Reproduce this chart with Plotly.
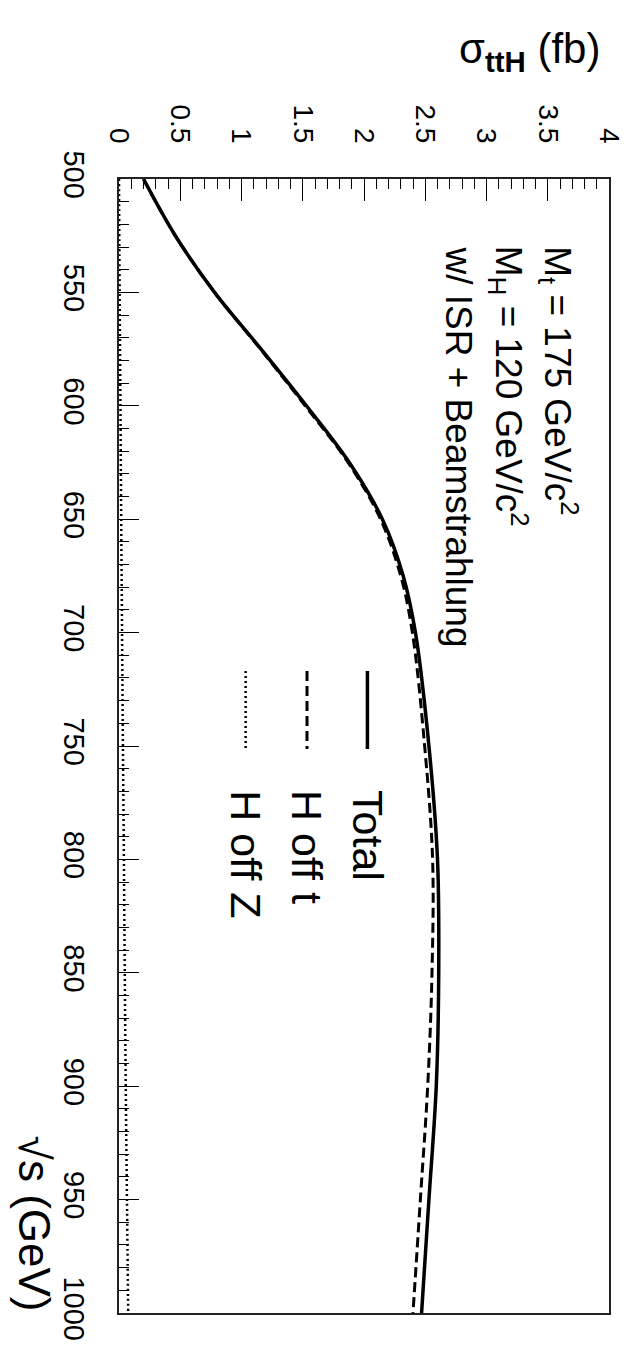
import plotly.graph_objects as go

# ---------------- data ----------------
sqrt_s = [500, 525, 550, 575, 600, 625, 650, 675, 700, 750, 800, 850, 900, 950, 1000]
sigma_total = [0.20, 0.46, 0.78, 1.16, 1.53, 1.88, 2.15, 2.32, 2.42, 2.53, 2.60, 2.61, 2.59, 2.53, 2.47]
sigma_off_t = [0.20, 0.46, 0.78, 1.155, 1.52, 1.87, 2.135, 2.30, 2.395, 2.495, 2.56, 2.555, 2.52, 2.46, 2.40]
sqrt_s_z = [500, 550, 600, 650, 700, 750, 800, 850, 900, 950, 1000]
sigma_off_z = [0.0, 0.005, 0.012, 0.018, 0.025, 0.032, 0.04, 0.047, 0.055, 0.065, 0.075]

sigma_ticks = [0, 0.5, 1, 1.5, 2, 2.5, 3, 3.5, 4]
sigma_ticktext = ["0", "0.5", "1", "1.5", "2", "2.5", "3", "3.5", "4"]
sqrts_ticks = [500, 550, 600, 650, 700, 750, 800, 850, 900, 950, 1000]
sqrts_ticktext = [str(v) for v in sqrts_ticks]

legend_names = ["Total", "H off t", "H off Z"]
info_lines = ["M<sub>t</sub> = 175 GeV/c<sup>2</sup>",
              "M<sub>H</sub> = 120 GeV/c<sup>2</sup>",
              "w/ ISR + Beamstrahlung"]

# ---------------- layout geometry ----------------
W, H = 629, 1352
PL, PR, PT, PB = 111, 614, 171, 1305
FONT = "Liberation Sans, Arial, Helvetica, sans-serif"


def px(xp):
    return (xp - PL) / (PR - PL)


def py(yp):
    return (PB - yp) / (PB - PT)


fig = go.Figure()
fig.add_trace(go.Scatter(x=sigma_off_z, y=sqrt_s_z, mode="lines", name=legend_names[2],
                         line=dict(color="black", width=2.5, dash="2px,3px", shape="spline")))
fig.add_trace(go.Scatter(x=sigma_off_t, y=sqrt_s, mode="lines", name=legend_names[1],
                         line=dict(color="black", width=3, dash="10px,5px", shape="spline")))
fig.add_trace(go.Scatter(x=sigma_total, y=sqrt_s, mode="lines", name=legend_names[0],
                         line=dict(color="black", width=3.5, shape="spline")))

fig.update_layout(
    width=W, height=H,
    margin=dict(l=PL, r=W - PR, t=PT, b=H - PB, pad=0),
    paper_bgcolor="white", plot_bgcolor="white",
    showlegend=False,
    font=dict(family=FONT, color="black"),
)

fig.update_xaxes(
    range=[0, 4], side="top",
    tickmode="array", tickvals=sigma_ticks, ticktext=sigma_ticktext,
    tickangle=90, tickfont=dict(size=28, family=FONT, color="black"),
    ticks="inside", ticklen=22, tickwidth=1.2, tickcolor="black",
    minor=dict(dtick=0.1, ticks="inside", ticklen=10, tickwidth=1, tickcolor="black", showgrid=False),
    showline=True, linecolor="#222", linewidth=1.5, mirror=True,
    showgrid=False, zeroline=False, ticklabelstandoff=24,
    ticklabeloverflow="allow",
)
fig.update_yaxes(
    range=[1000, 500],
    tickmode="array", tickvals=sqrts_ticks, ticktext=sqrts_ticktext,
    tickangle=90, tickfont=dict(size=29, family=FONT, color="black"),
    ticks="inside", ticklen=20, tickwidth=1.2, tickcolor="black",
    minor=dict(dtick=10, ticks="inside", ticklen=10, tickwidth=1, tickcolor="black", showgrid=False),
    showline=True, linecolor="#222", linewidth=1.5, mirror=True,
    showgrid=False, zeroline=False, ticklabelstandoff=18,
    ticklabeloverflow="allow",
)

ann = []
# axis titles
ann.append(dict(text="σ<sub><b>ttH</b></sub> (fb)", x=px(607), y=py(44), xref="paper", yref="paper",
                xanchor="right", yanchor="middle", showarrow=False,
                font=dict(size=42, family=FONT, color="black")))
ann.append(dict(text="√s (GeV)", x=px(25), y=py(1306), xref="paper", yref="paper",
                xanchor="center", yanchor="bottom", textangle=90, showarrow=False,
                font=dict(size=44, family=FONT, color="black")))
# info text
for txt, xc in zip(info_lines, [562, 511, 459]):
    ann.append(dict(text=txt, x=px(xc), y=py(236), xref="paper", yref="paper",
                    xanchor="center", yanchor="top", textangle=90, showarrow=False,
                    font=dict(size=37, family=FONT, color="black")))
# legend
leg_x = [366, 304, 241]
for name, xc in zip(legend_names, leg_x):
    ann.append(dict(text=name, x=px(xc), y=py(780), xref="paper", yref="paper",
                    xanchor="center", yanchor="top", textangle=90, showarrow=False,
                    font=dict(size=43, family=FONT, color="black")))
fig.update_layout(annotations=ann)

styles = [dict(width=3.5, dash="solid"), dict(width=3, dash="10px,5px"), dict(width=2.5, dash="2px,3px")]
for st, xc in zip(styles, leg_x):
    fig.add_shape(type="line", xref="paper", yref="paper",
                  x0=px(xc), x1=px(xc), y0=py(663), y1=py(741),
                  line=dict(color="black", width=st["width"], dash=st["dash"]))

fig.write_html("out.html")
